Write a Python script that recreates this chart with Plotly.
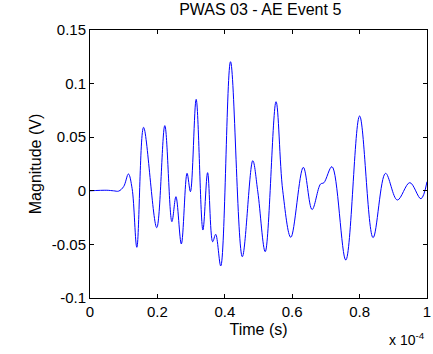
import plotly.graph_objects as go

# time in units of 1e-4 s, magnitude in V
time_e4 = [0.0, 0.05, 0.07, 0.085, 0.10, 0.114, 0.125, 0.139, 0.159, 0.198, 0.222,
           0.243, 0.255, 0.271, 0.288, 0.298, 0.315, 0.335, 0.349, 0.364, 0.373,
           0.388, 0.417, 0.452, 0.483, 0.498, 0.520, 0.552, 0.572, 0.596, 0.633,
           0.659, 0.684, 0.694, 0.718, 0.759, 0.800, 0.840, 0.877, 0.912, 0.949,
           0.982, 1.0]
magnitude = [0.0, 0.0005, 0.0, -0.0003, 0.004, 0.0157, 0.002, -0.0527, 0.0592, -0.0344, 0.0608,
             -0.0288, -0.0055, -0.0496, 0.0163, -0.0008, 0.0853, -0.0366, 0.0169, -0.0475, -0.0406,
             -0.0701, 0.1204, -0.0615, 0.0281, -0.001, -0.0568, 0.0831, 0.0, -0.0434, 0.0219,
             -0.0175, 0.0063, 0.0075, 0.0225, -0.0646, 0.0698, -0.0437, 0.0163, -0.0086, 0.0076,
             -0.0074, 0.0085]
time_s = [t * 1e-4 for t in time_e4]

xtick_vals = [0, 0.2e-4, 0.4e-4, 0.6e-4, 0.8e-4, 1e-4]
xtick_text = ["0", "0.2", "0.4", "0.6", "0.8", "1"]
ytick_vals = [-0.1, -0.05, 0, 0.05, 0.1, 0.15]
ytick_text = ["-0.1", "-0.05", "0", "0.05", "0.1", "0.15"]

FONT = "Liberation Sans, Arial, sans-serif"

fig = go.Figure(go.Scatter(x=time_s, y=magnitude, mode="lines",
                           line=dict(color="#0000ff", width=1, shape="spline", smoothing=1.0)))

axis_common = dict(showgrid=False, zeroline=False, showline=True, linecolor="black",
                   linewidth=1, mirror="ticks", ticks="inside", ticklen=4,
                   tickcolor="black", ticklabeloverflow="allow",
                   tickfont=dict(family=FONT, size=15, color="black"))

fig.update_layout(
    width=433, height=354,
    margin=dict(l=90, r=2, t=30, b=56),
    paper_bgcolor="white", plot_bgcolor="white",
    showlegend=False,
    title=dict(text="PWAS 03 - AE Event 5", x=0.601, xanchor="center", y=0.99, yanchor="top",
               font=dict(family=FONT, size=16, color="black")),
    xaxis=dict(range=[0, 1e-4], tickvals=xtick_vals, ticktext=xtick_text,
               title=dict(text="Time (s)", standoff=4, font=dict(family=FONT, size=16, color="black")),
               **axis_common),
    yaxis=dict(range=[-0.1, 0.15], tickvals=ytick_vals, ticktext=ytick_text,
               title=dict(text="Magnitude (V)", standoff=6, font=dict(family=FONT, size=16, color="black")),
               **axis_common),
    annotations=[dict(text="x 10<sup>-4</sup>", x=1.0, y=-0.112, xref="paper", yref="paper",
                      xanchor="right", yanchor="top", showarrow=False,
                      font=dict(family=FONT, size=14, color="black"))],
)

fig.write_html("out.html")
